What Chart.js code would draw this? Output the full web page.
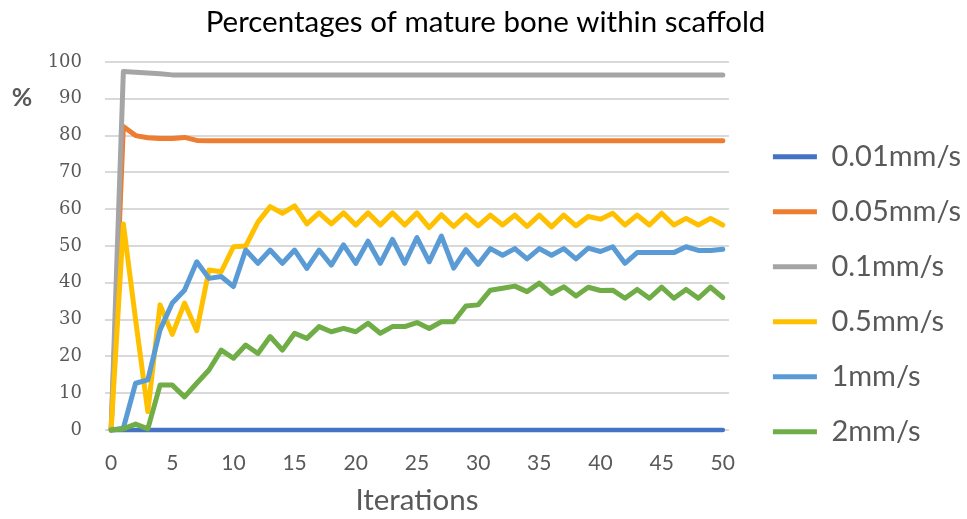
<!DOCTYPE html>
<html>
<head>
<meta charset="utf-8">
<script src="https://cdn.jsdelivr.net/npm/chart.js@4.4.1/dist/chart.umd.min.js"></script>
<style>
  html, body { margin: 0; padding: 0; background: #ffffff; }
  #wrap { width: 967px; height: 519px; }
</style>
</head>
<body>
<div id="wrap"><canvas id="c" width="967" height="519"></canvas></div>
<script>
// ---- data ----
const iterations = ['0','1','2','3','4','5','6','7','8','9','10','11','12','13','14','15','16','17','18','19','20','21','22','23','24','25','26','27','28','29','30','31','32','33','34','35','36','37','38','39','40','41','42','43','44','45','46','47','48','49','50'];
const xTickLabels = ['0','5','10','15','20','25','30','35','40','45','50'];
const seriesNames = ['0.01mm/s','0.05mm/s','0.1mm/s','0.5mm/s','1mm/s','2mm/s'];

const v001 = [0,0,0,0,0,0,0,0,0,0, 0,0,0,0,0,0,0,0,0,0, 0,0,0,0,0,0,0,0,0,0, 0,0,0,0,0,0,0,0,0,0, 0,0,0,0,0,0,0,0,0,0,0];
const v005 = [0,82.5,80,79.4,79.2,79.2,79.5,78.7,78.6,78.6, 78.6,78.6,78.6,78.6,78.6,78.6,78.6,78.6,78.6,78.6, 78.6,78.6,78.6,78.6,78.6,78.6,78.6,78.6,78.6,78.6, 78.6,78.6,78.6,78.6,78.6,78.6,78.6,78.6,78.6,78.6, 78.6,78.6,78.6,78.6,78.6,78.6,78.6,78.6,78.6,78.6,78.6];
const v01 = [0,97.4,97.2,97,96.8,96.5,96.5,96.5,96.5,96.5, 96.5,96.5,96.5,96.5,96.5,96.5,96.5,96.5,96.5,96.5, 96.5,96.5,96.5,96.5,96.5,96.5,96.5,96.5,96.5,96.5, 96.5,96.5,96.5,96.5,96.5,96.5,96.5,96.5,96.5,96.5, 96.5,96.5,96.5,96.5,96.5,96.5,96.5,96.5,96.5,96.5,96.5];
const v05 = [0,56,30,5,34,26,34.5,27,43.5,43, 49.8,50,56.5,60.7,58.9,60.9,56,59,56,59, 55.7,59,55.7,59,55.7,59,55,58.5,55.3,58.4, 55.5,58.4,55.7,58.4,55.3,58.4,55.2,58.4,55.5,58, 57.3,58.9,55.7,58.4,55.7,58.9,55.7,57.5,55.7,57.5,55.7];
const v1 = [0,0.5,12.7,13.6,27.2,34.5,38,45.7,41.2,41.7, 39,48.9,45.3,48.9,45.3,48.9,43.9,48.9,44.8,50.3, 45.3,51.3,45.3,51.8,45.3,52.3,45.7,52.7,44,49, 45,49.3,47.5,49.3,46.5,49.3,47.5,49.3,46.5,49.4, 48.5,49.8,45.3,48.2,48.2,48.2,48.2,49.8,48.8,48.8,49.1];
const v2 = [0,0.3,1.6,0.3,12.2,12.2,9,12.7,16.3,21.7, 19.5,23.1,20.8,25.4,21.7,26.3,24.9,28.1,26.7,27.6, 26.7,29,26.3,28.1,28.1,29.2,27.6,29.4,29.4,33.7, 34,38,38.5,39.1,37.6,39.9,37.1,38.9,36.4,38.8, 37.9,38,35.8,38.2,35.8,38.8,35.8,38.2,35.8,38.8,36];
const yTicks = [0,10,20,30,40,50,60,70,80,90,100];

// ---- styles ----
const colors = ['#4472C4','#ED7D31','#A5A5A5','#FFC000','#5B9BD5','#70AD47'];
const allValues = [v001, v005, v01, v05, v1, v2];
const gray = '#595959';

const datasets = allValues.map((vals, k) => ({
  label: seriesNames[k],
  data: vals,
  borderColor: colors[k],
  backgroundColor: colors[k],
  borderWidth: k === 0 ? 4.5 : 5,
  pointRadius: 0,
  pointHoverRadius: 0,
  tension: 0,
  borderJoinStyle: 'round',
  borderCapStyle: 'round',
  clip: false,
  order: allValues.length - k   // later series drawn on top, like the original
}));

const percentLabel = {
  id: 'percentLabel',
  afterDraw(chart) {
    const ctx = chart.ctx;
    const y = chart.scales.y.getPixelForValue(90) - 1;
    ctx.save();
    ctx.font = 'bold 25px Lato';
    ctx.fillStyle = gray;
    ctx.textAlign = 'center';
    ctx.textBaseline = 'middle';
    ctx.fillText('%', 22, y);
    ctx.restore();
  }
};

new Chart(document.getElementById('c'), {
  type: 'line',
  data: { labels: iterations, datasets },
  plugins: [percentLabel],
  options: {
    responsive: false,
    animation: false,
    devicePixelRatio: 1,
    layout: { padding: { left: 0, right: -4, top: 0, bottom: 0 } },
    plugins: {
      tooltip: { enabled: false },
      title: {
        display: true,
        text: 'Percentages of mature bone within scaffold',
        color: '#000000',
        font: { family: 'Lato', size: 29.5, weight: '400', lineHeight: 1.2 },
        padding: { top: 4.3, bottom: 22.3 }
      },
      legend: {
        display: true,
        position: 'right',
        align: 'center',
        maxWidth: 320,
        title: { display: true, text: '', font: { size: 10, lineHeight: 1 }, padding: { top: 59.4, bottom: 0 } },
        labels: {
          color: gray,
          font: { family: 'Lato', size: 29 },
          boxWidth: 44,
          boxHeight: 5,
          padding: 26,
          sort: (a, b) => a.datasetIndex - b.datasetIndex,
          generateLabels(chart) {
            const items = Chart.defaults.plugins.legend.labels.generateLabels(chart);
            return items.map(it => Object.assign(it, { fillStyle: it.strokeStyle, lineWidth: 0 }));
          }
        }
      }
    },
    scales: {
      x: {
        type: 'category',
        offset: true,
        grid: { display: false, drawTicks: false },
        border: { display: false },
        ticks: {
          autoSkip: false,
          maxRotation: 0,
          minRotation: 0,
          padding: 20.4,
          color: gray,
          font: { family: 'Lato', size: 21, lineHeight: 1.2 },
          callback: (value, index) => xTickLabels.includes(iterations[index]) ? iterations[index] : ''
        },
        title: {
          display: true,
          text: 'Iterations',
          color: gray,
          font: { family: 'Lato', size: 29.5, lineHeight: 1.2 },
          padding: { top: 0, bottom: 1.3 }
        },
        afterFit: (s) => { s.height = 89; }
      },
      y: {
        min: 0,
        max: 100,
        grid: { color: '#d9d9d9', lineWidth: 2, drawTicks: false },
        border: { display: false },
        ticks: {
          stepSize: 10,
          padding: 23,
          color: gray,
          font: { family: 'DejaVu Serif', size: 18 },
          callback: (v) => yTicks.includes(v) ? String(v) : ''
        },
        afterFit: (s) => { s.width = 105; }
      },
      y2: {
        position: 'right',
        display: true,
        grid: { display: false, drawTicks: false },
        border: { display: false },
        ticks: { display: false },
        afterFit: (s) => { s.width = 18; }
      }
    }
  }
});
</script>
</body>
</html>
